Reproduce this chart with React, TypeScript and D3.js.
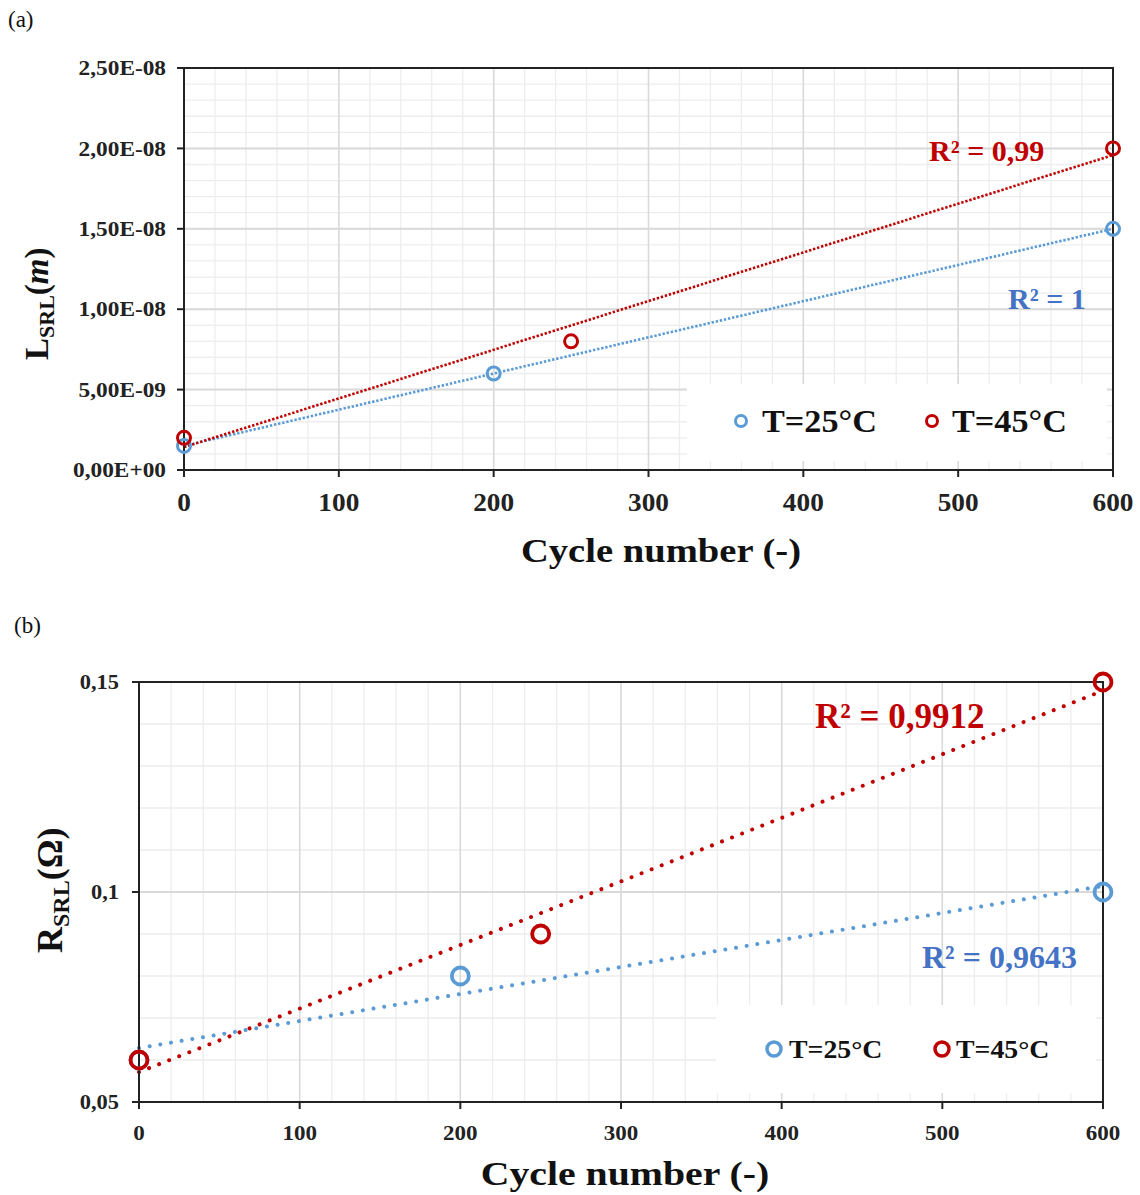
import React from 'react';
import * as d3 from 'd3';

// ---------- data ----------
const cyclesA25 = [0, 200, 600];
const valuesA25 = [1.5e-9, 6e-9, 1.5e-8];
const cyclesA45 = [0, 250, 600];
const valuesA45 = [2e-9, 8e-9, 2e-8];

const cyclesB25 = [0, 200, 600];
const valuesB25 = [0.06, 0.08, 0.1];
const cyclesB45 = [0, 250, 600];
const valuesB45 = [0.06, 0.09, 0.15];

const xTicks = [0, 100, 200, 300, 400, 500, 600];
const yTicksA = [0, 5e-9, 1e-8, 1.5e-8, 2e-8, 2.5e-8];
const yTickLabelsA = ['0,00E+00', '5,00E-09', '1,00E-08', '1,50E-08', '2,00E-08', '2,50E-08'];
const yTicksB = [0.05, 0.1, 0.15];
const yTickLabelsB = ['0,05', '0,1', '0,15'];

const legendLabels = ['T=25°C', 'T=45°C'];
const r2LabelsA = ['R² = 1', 'R² = 0,99'];
const r2LabelsB = ['R² = 0,9643', 'R² = 0,9912'];

const BLUE = '#5B9BD5';
const RED = '#C00000';
const BLUE_TXT = '#4472C4';
const FONT = '"Liberation Serif", "Times New Roman", serif';

function fit(xs: number[], ys: number[]) {
  const mx = d3.mean(xs) as number;
  const my = d3.mean(ys) as number;
  let sxy = 0, sxx = 0;
  xs.forEach((x, i) => { sxy += (x - mx) * (ys[i] - my); sxx += (x - mx) * (x - mx); });
  const slope = sxy / sxx;
  return { slope, intercept: my - slope * mx };
}

type PanelProps = {
  left: number; right: number; top: number; bottom: number;
  yDomain: [number, number]; yMinorStep: number; yTicks: number[]; yTickLabels: string[];
  series: { xs: number[]; ys: number[]; color: string }[];
  markerR: number; markerW: number;
  lineW: number; dash: string; cap: 'butt' | 'round';
  yTickFont: number; yTickSx: number; xTickFont: number; xTickSx: number;
  yLabelRight: number; xLabelBase: number;
  legendBox: [number, number, number, number];
  legendItems: { x: number; tx: number }[]; legendY: number; legendFont: number; legendR: number; legendW: number;
  r2: { text: string; x: number; y: number; size: number; color: string }[];
  xTitle: { x: number; y: number; size: number; sx: number };
};

function Panel(p: PanelProps) {
  const x = d3.scaleLinear().domain([0, 600]).range([p.left, p.right]);
  const y = d3.scaleLinear().domain(p.yDomain).range([p.bottom, p.top]);
  const xMinor = d3.range(0, 600.001, 20);
  const nMinorY = Math.round((p.yDomain[1] - p.yDomain[0]) / p.yMinorStep);
  const yMinor = d3.range(0, nMinorY + 1).map((i) => p.yDomain[0] + i * p.yMinorStep);
  const [lx, ly, lw, lh] = p.legendBox;
  return (
    <g>
      {/* minor grid */}
      {xMinor.map((v, i) => (
        <line key={'vx' + i} x1={x(v)} x2={x(v)} y1={p.top} y2={p.bottom} stroke="#EDEDED" strokeWidth={1.3} />
      ))}
      {yMinor.map((v, i) => (
        <line key={'hy' + i} x1={p.left} x2={p.right} y1={y(v)} y2={y(v)} stroke="#EDEDED" strokeWidth={1.3} />
      ))}
      {/* major grid */}
      {xTicks.map((v, i) => (
        <line key={'VX' + i} x1={x(v)} x2={x(v)} y1={p.top} y2={p.bottom} stroke="#D9D9D9" strokeWidth={1.5} />
      ))}
      {p.yTicks.map((v, i) => (
        <line key={'HY' + i} x1={p.left} x2={p.right} y1={y(v)} y2={y(v)} stroke="#D9D9D9" strokeWidth={2} />
      ))}
      {/* legend box */}
      <rect x={lx} y={ly} width={lw} height={lh} fill="#fff" />
      {/* trendlines */}
      {p.series.map((s, i) => {
        const f = fit(s.xs, s.ys);
        return (
          <line key={'t' + i} x1={x(0)} y1={y(f.intercept)} x2={x(600)} y2={y(f.intercept + f.slope * 600)}
            stroke={s.color} strokeWidth={p.lineW} strokeDasharray={p.dash} strokeLinecap={p.cap} />
        );
      })}
      {/* border */}
      <rect x={p.left} y={p.top} width={p.right - p.left} height={p.bottom - p.top} fill="none" stroke="#222" strokeWidth={2} />
      {/* ticks */}
      {p.yTicks.map((v, i) => (
        <g key={'yt' + i}>
          <line x1={p.left - 7} x2={p.left} y1={y(v)} y2={y(v)} stroke="#222" strokeWidth={2} />
          <text transform={`translate(${p.yLabelRight},${y(v) + p.yTickFont * 0.33}) scale(${p.yTickSx},1)`} textAnchor="end"
            fontFamily={FONT} fontWeight="bold" fontSize={p.yTickFont} fill="#222">{p.yTickLabels[i]}</text>
        </g>
      ))}
      {xTicks.map((v, i) => (
        <g key={'xt' + i}>
          <line x1={x(v)} x2={x(v)} y1={p.bottom} y2={p.bottom + 7} stroke="#222" strokeWidth={2} />
          <text transform={`translate(${x(v)},${p.xLabelBase}) scale(${p.xTickSx},1)`} textAnchor="middle"
            fontFamily={FONT} fontWeight="bold" fontSize={p.xTickFont} fill="#222">{v}</text>
        </g>
      ))}
      {/* markers */}
      {p.series.map((s, i) => (
        <g key={'m' + i}>
          {s.xs.map((xv, j) => (
            <circle key={j} cx={x(xv)} cy={y(s.ys[j])} r={p.markerR} fill="none" stroke={s.color} strokeWidth={p.markerW} />
          ))}
        </g>
      ))}
      {/* legend */}
      {p.legendItems.map((it, i) => (
        <g key={'lg' + i}>
          <circle cx={it.x} cy={p.legendY} r={p.legendR} fill="none" stroke={p.series[i].color} strokeWidth={p.legendW} />
          <text transform={`translate(${it.tx},${p.legendY + p.legendFont * 0.34}) scale(1.07,1)`} fontFamily={FONT}
            fontWeight="bold" fontSize={p.legendFont} fill="#111">{legendLabels[i]}</text>
        </g>
      ))}
      {/* R² labels */}
      {p.r2.map((r, i) => (
        <text key={'r' + i} x={r.x} y={r.y} fontFamily={FONT} fontWeight="bold" fontSize={r.size} fill={r.color}>{r.text}</text>
      ))}
      {/* x title */}
      <text transform={`translate(${p.xTitle.x},${p.xTitle.y}) scale(${p.xTitle.sx},1)`} textAnchor="middle"
        fontFamily={FONT} fontWeight="bold" fontSize={p.xTitle.size} fill="#111">Cycle number (-)</text>
    </g>
  );
}

export default function App() {
  return (
    <svg width={1140} height={1195} style={{ position: 'absolute', left: 0, top: 0, background: '#fff' }}>
      <rect width={1140} height={1195} fill="#fff" />
      <text x={8} y={27} fontFamily={FONT} fontSize={23} fill="#111">(a)</text>
      <Panel
        left={184} right={1113} top={68} bottom={470}
        yDomain={[0, 2.5e-8]} yMinorStep={1e-9} yTicks={yTicksA} yTickLabels={yTickLabelsA}
        series={[{ xs: cyclesA25, ys: valuesA25, color: BLUE }, { xs: cyclesA45, ys: valuesA45, color: RED }]}
        markerR={6.5} markerW={3} lineW={2.6} dash="2.4 1.8" cap="butt"
        yTickFont={22} yTickSx={1.06} xTickFont={26} xTickSx={1.05}
        yLabelRight={166} xLabelBase={511}
        legendBox={[687, 384, 420, 77]}
        legendItems={[{ x: 741, tx: 762 }, { x: 932, tx: 952 }]} legendY={421} legendFont={32} legendR={5.5} legendW={3}
        r2={[
          { text: r2LabelsA[0], x: 1008, y: 309, size: 30, color: BLUE_TXT },
          { text: r2LabelsA[1], x: 929, y: 161, size: 30, color: RED },
        ]}
        xTitle={{ x: 661, y: 562, size: 33, sx: 1.17 }}
      />
      <text transform="translate(48,360) rotate(-90)" fontFamily={FONT} fontWeight="bold" fill="#111">
        <tspan fontSize={33}>L</tspan>
        <tspan fontSize={22} dy={6}>SRL</tspan>
        <tspan fontSize={33} dy={-6}>(</tspan>
        <tspan fontSize={33} fontStyle="italic">m</tspan>
        <tspan fontSize={33}>)</tspan>
      </text>

      <text x={14} y={633} fontFamily={FONT} fontSize={23} fill="#111">(b)</text>
      <Panel
        left={139} right={1103} top={682} bottom={1102}
        yDomain={[0.05, 0.15]} yMinorStep={0.01} yTicks={yTicksB} yTickLabels={yTickLabelsB}
        series={[{ xs: cyclesB25, ys: valuesB25, color: BLUE }, { xs: cyclesB45, ys: valuesB45, color: RED }]}
        markerR={8.5} markerW={3.8} lineW={4} dash="0.01 10.8" cap="round"
        yTickFont={20} yTickSx={1.12} xTickFont={20} xTickSx={1.15}
        yLabelRight={119} xLabelBase={1140}
        legendBox={[716, 1005, 380, 88]}
        legendItems={[{ x: 774, tx: 789 }, { x: 942, tx: 956 }]} legendY={1049} legendFont={26} legendR={7} legendW={3.5}
        r2={[
          { text: r2LabelsB[0], x: 922, y: 968, size: 32, color: BLUE_TXT },
          { text: r2LabelsB[1], x: 815, y: 728, size: 35, color: RED },
        ]}
        xTitle={{ x: 625, y: 1185, size: 34, sx: 1.17 }}
      />
      <text transform="translate(62,953) rotate(-90)" fontFamily={FONT} fontWeight="bold" fill="#111">
        <tspan fontSize={36}>R</tspan>
        <tspan fontSize={24} dy={7}>SRL</tspan>
        <tspan fontSize={36} dy={-7}>(Ω)</tspan>
      </text>
    </svg>
  );
}
